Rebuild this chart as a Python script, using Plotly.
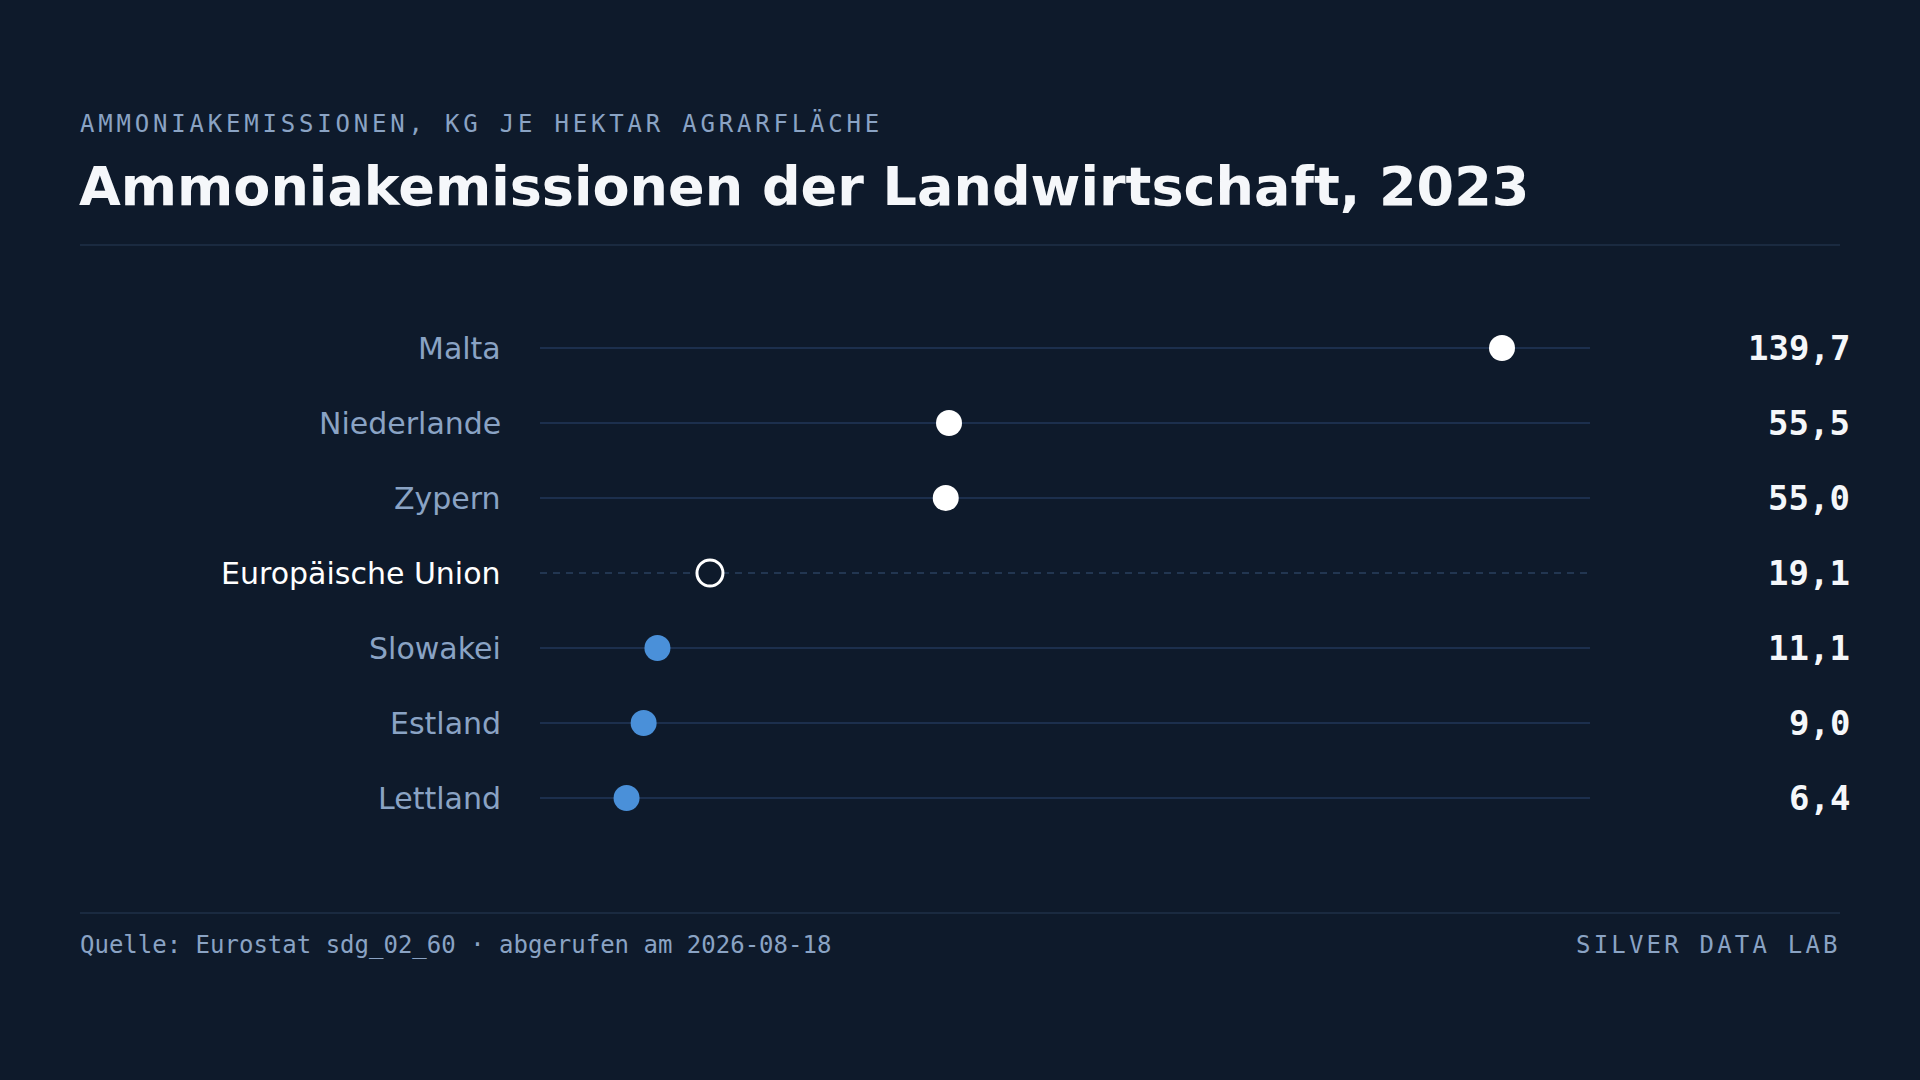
import plotly.graph_objects as go

# ---- data ----
countries = ["Malta", "Niederlande", "Zypern", "Europäische Union", "Slowakei", "Estland", "Lettland"]
values = [139.7, 55.5, 55.0, 19.1, 11.1, 9.0, 6.4]
reference = "Europäische Union"

subtitle = "AMMONIAKEMISSIONEN, KG JE HEKTAR AGRARFLÄCHE"
title = "Ammoniakemissionen der Landwirtschaft, 2023"
source = "Quelle: Eurostat sdg_02_60 · abgerufen am 2026-08-18"
brand = "SILVER DATA LAB"

# ---- style ----
BG = "#0e1a2b"
WHITE = "#f5f7fa"
MUTED = "#8aa3c4"
BLUE = "#4a90d9"
ROWLINE = "#22375a"
SEP = "#1a2a40"
W, H = 1920, 1080

def px_x(x):
    return x / W

def px_y(y):
    return 1 - y / H

ref_val = values[countries.index(reference)]

colors, line_colors, line_widths = [], [], []
for c, v in zip(countries, values):
    if c == reference:
        colors.append(BG); line_colors.append("#ffffff"); line_widths.append(3)
    elif v > ref_val:
        colors.append("#ffffff"); line_colors.append("#ffffff"); line_widths.append(0)
    else:
        colors.append(BLUE); line_colors.append(BLUE); line_widths.append(0)

fig = go.Figure()
fig.add_trace(go.Scatter(
    x=values, y=countries, mode="markers",
    marker=dict(size=26, color=colors, line=dict(color=line_colors, width=line_widths)),
    hoverinfo="skip", showlegend=False, cliponaxis=False,
))

shapes = []
for c in countries:
    is_ref = c == reference
    shapes.append(dict(
        type="line", xref="x domain", x0=0, x1=1, yref="y", y0=c, y1=c,
        line=dict(color="#2a405f" if is_ref else ROWLINE, width=1.5,
                  dash="7px,6px" if is_ref else "solid"),
        layer="below",
    ))
# separators
shapes.append(dict(type="line", xref="paper", yref="paper",
                   x0=px_x(80), x1=px_x(1840), y0=px_y(245), y1=px_y(245),
                   line=dict(color=SEP, width=2)))
shapes.append(dict(type="line", xref="paper", yref="paper",
                   x0=px_x(80), x1=px_x(1840), y0=px_y(913), y1=px_y(913),
                   line=dict(color=SEP, width=2)))

annotations = []
for c, v in zip(countries, values):
    annotations.append(dict(
        x=px_x(502), xref="paper", y=c, yref="y", xanchor="right", yanchor="middle",
        text=c, showarrow=False, borderpad=0,
        font=dict(family="DejaVu Sans", size=30, color="#ffffff" if c == reference else MUTED),
    ))
    annotations.append(dict(
        x=px_x(1851), xref="paper", y=c, yref="y", xanchor="right", yanchor="middle",
        text=f"{v:.1f}".replace(".", ","), showarrow=False, borderpad=0,
        font=dict(family="DejaVu Sans Mono", size=34, color=WHITE, weight="bold"),
    ))

annotations.append(dict(
    x=px_x(79), y=px_y(123), xref="paper", yref="paper", xanchor="left", yanchor="middle",
    text=f'<span style="letter-spacing:3.8px">{subtitle}</span>', showarrow=False, borderpad=0,
    font=dict(family="DejaVu Sans Mono", size=24, color=MUTED),
))
annotations.append(dict(
    x=px_x(78), y=px_y(186), xref="paper", yref="paper", xanchor="left", yanchor="middle",
    text=f"<b>{title}</b>", showarrow=False, borderpad=0,
    font=dict(family="DejaVu Sans", size=54, color=WHITE),
))
annotations.append(dict(
    x=px_x(79), y=px_y(945), xref="paper", yref="paper", xanchor="left", yanchor="middle",
    text=source, showarrow=False, borderpad=0,
    font=dict(family="DejaVu Sans Mono", size=24, color=MUTED),
))
annotations.append(dict(
    x=px_x(1842), y=px_y(945), xref="paper", yref="paper", xanchor="right", yanchor="middle",
    text=f'<span style="letter-spacing:3.2px">{brand}</span>', showarrow=False, borderpad=0,
    font=dict(family="DejaVu Sans Mono", size=24, color=MUTED),
))

fig.update_layout(
    width=W, height=H,
    paper_bgcolor=BG, plot_bgcolor=BG,
    margin=dict(l=0, r=0, t=0, b=0),
    xaxis=dict(domain=[px_x(540), px_x(1590)], range=[-6.78, 153.1],
               showgrid=False, zeroline=False, showticklabels=False, showline=False, fixedrange=True),
    yaxis=dict(domain=[px_y(835.5), px_y(310.5)], type="category",
               categoryorder="array", categoryarray=countries, range=[6.5, -0.5],
               showgrid=False, zeroline=False, showticklabels=False, showline=False, fixedrange=True),
    shapes=shapes, annotations=annotations,
    hovermode=False,
)

fig.write_html(
    "out.html",
    config={"displayModeBar": False},
    post_script=f"document.body.style.margin='0';document.body.style.background='{BG}';",
)
